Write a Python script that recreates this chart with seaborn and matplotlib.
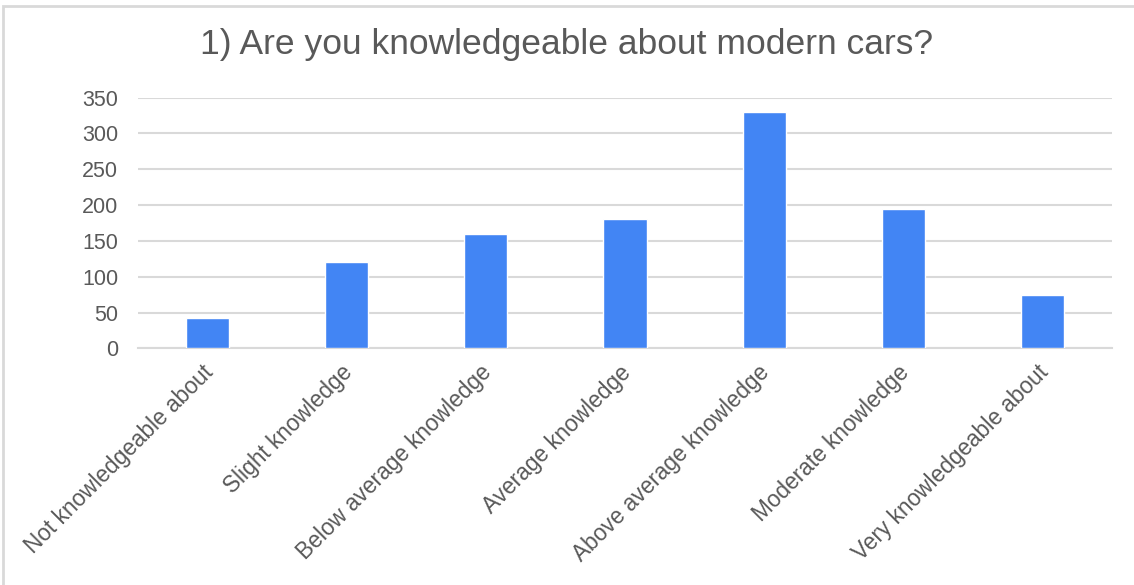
import matplotlib
matplotlib.use("Agg")
import matplotlib.pyplot as plt
import matplotlib.transforms as mtransforms
import seaborn as sns
import pandas as pd

categories = [
    "Not knowledgeable about",
    "Slight knowledge",
    "Below average knowledge",
    "Average knowledge",
    "Above average knowledge",
    "Moderate knowledge",
    "Very knowledgeable about",
]
counts = [43, 120, 159, 180, 330, 195, 75]
yticks = [0, 50, 100, 150, 200, 250, 300, 350]
title = "1) Are you knowledgeable about modern cars?"

sns.set_theme(style="white")
plt.rcParams["font.family"] = ["Liberation Sans", "DejaVu Sans"]

df = pd.DataFrame({"category": categories, "count": counts})

fig = plt.figure(figsize=(11.34, 5.85), dpi=100)
ax = fig.add_axes([0.1217, 0.4046, 0.8589, 0.4284])

sns.barplot(data=df, x="category", y="count", color="#4285F4", width=0.31,
            saturation=1, ax=ax, zorder=3)

ax.set_ylim(0, 350)
ax.set_yticks(yticks)
ax.set_yticklabels([str(v) for v in yticks], fontsize=15.5, color="#595959")
ax.yaxis.grid(True, color="#d9d9d9", linewidth=1.5, zorder=0)
ax.set_axisbelow(True)
for s in ["top", "right", "left"]:
    ax.spines[s].set_visible(False)
ax.spines["bottom"].set_color("#d9d9d9")
ax.spines["bottom"].set_linewidth(1.5)
ax.tick_params(axis="y", length=0, pad=14.4)
ax.tick_params(axis="x", length=0, pad=9.0)
ax.set_xlabel("")
ax.set_ylabel("")

offset = mtransforms.ScaledTranslation(-0.06, 0, fig.dpi_scale_trans)
for lab in ax.get_xticklabels():
    lab.set_rotation(45)
    lab.set_ha("right")
    lab.set_va("top")
    lab.set_rotation_mode("anchor")
    lab.set_fontsize(16.3)
    lab.set_color("#595959")
    lab.set_transform(lab.get_transform() + offset)

fig.text(0.5, 0.924, title, ha="center", va="center", fontsize=25.5, color="#595959")

border = plt.Rectangle((0.003, -0.2), 1.2, 1.19, transform=fig.transFigure,
                       fill=False, edgecolor="#d9d9d9", linewidth=2)
fig.patches.append(border)

fig.savefig("out.png", dpi=100)
